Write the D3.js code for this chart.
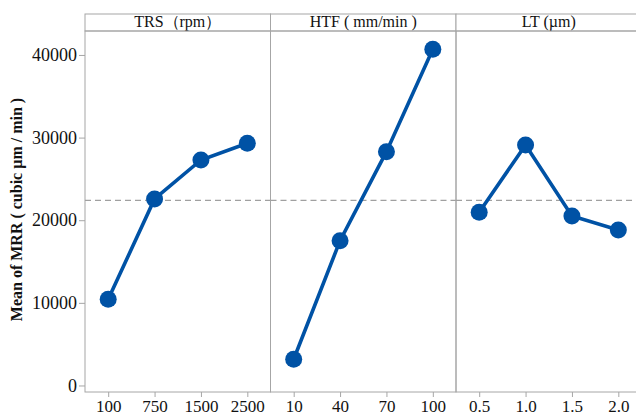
<!DOCTYPE html>
<meta charset="utf-8">
<script src="https://d3js.org/d3.v7.min.js"></script>
<style>
  body { margin: 0; background: #fff; }
  text { font-family: "Liberation Serif", "Times New Roman", serif; }
</style>
<div id="chart"></div>
<script>
// factor levels and main-effect means
var panels = ["TRS（rpm）", "HTF ( mm/min )", "LT (µm)"];
var trsLevels = ["100", "750", "1500", "2500"];
var trsMeans = [10430, 22570, 27290, 29310];
var htfLevels = ["10", "40", "70", "100"];
var htfMeans = [3170, 17525, 28300, 40690];
var ltLevels = ["0.5", "1.0", "1.5", "2.0"];
var ltMeans = [20960, 29110, 20510, 18820];
var yTicks = [0, 10000, 20000, 30000, 40000];

var levels = [trsLevels, htfLevels, ltLevels];
var means = [trsMeans, htfMeans, ltMeans];
var grand = d3.mean(d3.merge(means));

var W = 636, H = 417;
var mLeft = 85, plotTop = 31, plotBottom = 392, stripTop = 14, panelW = 185.5;
var blue = "#0052a5", frame = "#a6a6a6";

var svg = d3.select("#chart").append("svg")
  .attr("width", W).attr("height", H);

var y = d3.scaleLinear()
  .domain([-790, 42900])
  .range([plotBottom, plotTop]);

// y axis
var yAxis = svg.append("g")
  .attr("transform", "translate(" + mLeft + ",0)")
  .call(d3.axisLeft(y).tickValues(yTicks).tickSize(6).tickPadding(2).tickFormat(d3.format("d")));
yAxis.select(".domain").remove();
yAxis.selectAll(".tick line").attr("stroke", frame);
yAxis.selectAll(".tick text").attr("font-size", 18).attr("fill", "#111")
  .attr("font-family", "Liberation Serif");

svg.append("text")
  .attr("transform", "translate(22," + ((plotTop + plotBottom) / 2 - 2) + ") rotate(-90)")
  .attr("text-anchor", "middle")
  .attr("font-size", 16)
  .attr("font-weight", "bold")
  .attr("fill", "#111")
  .text("Mean of MRR ( cubic µm / min )");

panels.forEach(function (name, i) {
  var x0 = mLeft + i * panelW;
  var g = svg.append("g").attr("transform", "translate(" + x0 + ",0)");

  var x = d3.scalePoint()
    .domain(levels[i])
    .range([0, panelW])
    .padding(0.5);

  // header strip
  g.append("rect")
    .attr("x", 0).attr("y", stripTop)
    .attr("width", panelW).attr("height", plotTop - stripTop)
    .attr("fill", "#fff").attr("stroke", frame);
  g.append("text")
    .attr("x", panelW / 2).attr("y", plotTop - 4)
    .attr("text-anchor", "middle")
    .attr("font-size", 16)
    .attr("fill", "#111")
    .text(name);

  // panel frame
  g.append("rect")
    .attr("x", 0).attr("y", plotTop)
    .attr("width", panelW).attr("height", plotBottom - plotTop)
    .attr("fill", "none").attr("stroke", frame);

  // x axis
  var xa = g.append("g")
    .attr("transform", "translate(0," + plotBottom + ")")
    .call(d3.axisBottom(x).tickSize(5).tickPadding(3));
  xa.select(".domain").remove();
  xa.selectAll(".tick line").attr("stroke", frame);
  xa.selectAll(".tick text").attr("font-size", 17).attr("fill", "#111")
    .attr("font-family", "Liberation Serif");

  // grand mean reference
  g.append("line")
    .attr("x1", 0).attr("x2", panelW)
    .attr("y1", y(grand)).attr("y2", y(grand))
    .attr("stroke", "#a0a0a0")
    .attr("stroke-width", 1.3)
    .attr("stroke-dasharray", "6,4");

  var pts = levels[i].map(function (l, j) { return [l, means[i][j]]; });

  g.append("path")
    .datum(pts)
    .attr("fill", "none")
    .attr("stroke", blue)
    .attr("stroke-width", 3.6)
    .attr("d", d3.line()
      .x(function (d) { return x(d[0]); })
      .y(function (d) { return y(d[1]); }));

  g.selectAll(".dot")
    .data(pts)
    .enter()
    .append("circle")
      .attr("class", "dot")
      .attr("cx", function (d) { return x(d[0]); })
      .attr("cy", function (d) { return y(d[1]); })
      .attr("r", 8.5)
      .attr("fill", blue);
});
</script>
